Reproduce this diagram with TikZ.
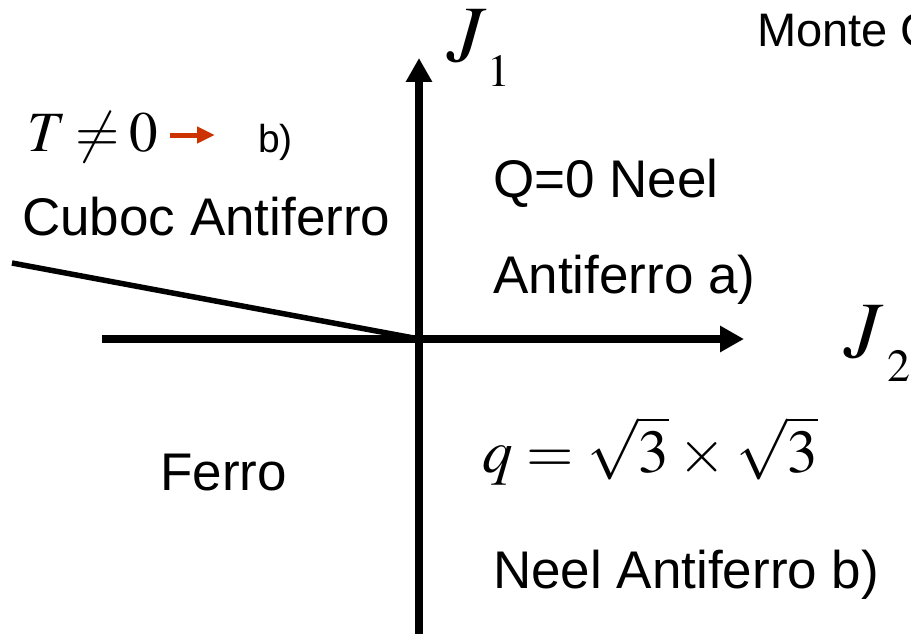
\documentclass[tikz,border=0pt]{standalone}
\usepackage{mathptmx}
\usepackage{fontspec}
\setmainfont{Liberation Sans}
\usetikzlibrary{arrows.meta}
\definecolor{arrred}{HTML}{CC3300}
\begin{document}
\begin{tikzpicture}[x=1pt,y=-1pt,
  lbl/.style={inner sep=0pt,anchor=base west,font=\fontsize{53}{60}\selectfont},
  axis/.style={line width=7.5pt,-{Triangle[length=24pt,width=25pt]}},
  phase/.style={line width=5.5pt}]
\useasboundingbox (0,0) rectangle (911,634);
% axes
\coordinate (xl) at (102,339);
\coordinate (xr) at (744,339);
\coordinate (yb) at (419,634);
\coordinate (yt) at (419,58);
\coordinate (o) at (419,339);
\coordinate (dl) at (12,263);
\draw[axis] (xl) -- (xr);
\draw[axis] (yb) -- (yt);
\draw[phase] (dl) -- (o);
% labels
\node[inner sep=0pt,anchor=base west,font=\fontsize{80}{90}\selectfont] (j1) at (447,62) {$J$};
\node[inner sep=0pt,anchor=base west,font=\fontsize{46}{50}\selectfont] (j1s) at (487,87) {$1$};
\node[inner sep=0pt,anchor=base west,font=\fontsize{80}{90}\selectfont] (j2) at (844,357) {$J$};
\node[inner sep=0pt,anchor=base west,font=\fontsize{46}{50}\selectfont] (j2s) at (887,381) {$2$};
\node[lbl,font=\fontsize{47}{50}\selectfont] (mc) at (757,47) {Monte C};
\node[inner sep=0pt,anchor=base west,font=\fontsize{57}{60}\selectfont] (t) at (27,151) {$\thickmuskip=3mu T\neq 0$};
\node[lbl,font=\fontsize{39}{45}\selectfont] (b1) at (258,152) {b)};
\coordinate (ra) at (170,135);
\coordinate (rb) at (215,135);
\draw[arrred,line width=5pt,-{Triangle[length=18pt,width=16pt]}] (ra) -- (rb);
\node[lbl] (cuboc) at (22,235) {Cuboc Antiferro};
\node[lbl] (q0) at (493,197) {Q=0 Neel};
\node[lbl] (af) at (493,293) {Antiferro a)};
\node[lbl] (ferro) at (160,490) {Ferro};
\node[inner sep=0pt,anchor=base west,font=\fontsize{61}{64}\selectfont] (q) at (482,472) {$\thickmuskip=4mu\medmuskip=3mu q=\sqrt{3}\times\sqrt{3}$};
\node[lbl] (nab) at (493,588) {Neel Antiferro b)};
\end{tikzpicture}
\end{document}
